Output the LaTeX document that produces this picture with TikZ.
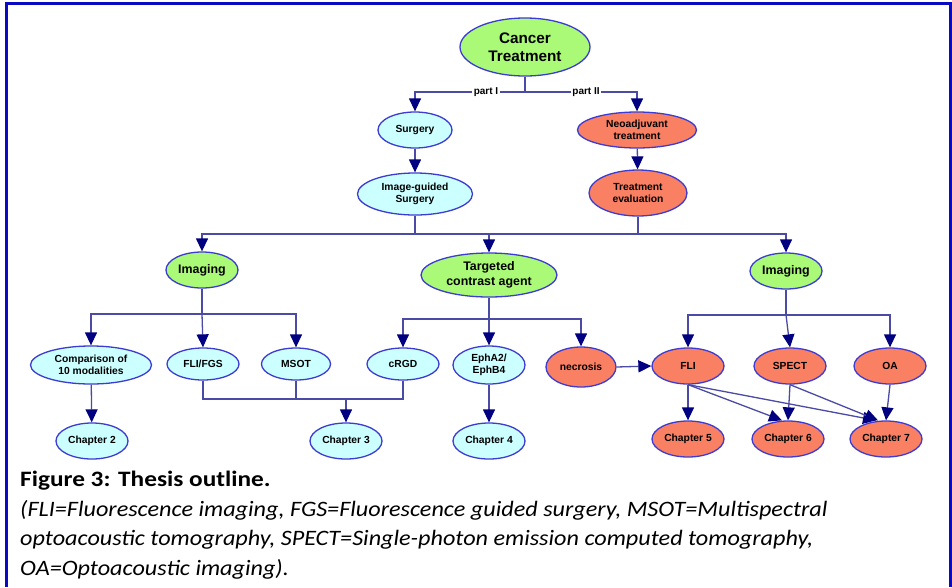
\documentclass[tikz,border=0pt]{standalone}
\usepackage{fontspec}
\setmainfont{Liberation Sans}
\newfontfamily\capbold{Carlito}[FakeStretch=1.15,UprightFont=* Bold]
\newfontfamily\capital{Carlito}[FakeStretch=1.10,UprightFont=* Italic]
\usetikzlibrary{shapes.geometric,arrows.meta}
\definecolor{frameblue}{RGB}{10,10,195}
\definecolor{linecol}{RGB}{75,75,165}
\definecolor{arrowcol}{RGB}{0,0,128}
\definecolor{nodeborder}{RGB}{60,60,210}
\definecolor{cyanfill}{RGB}{204,255,255}
\definecolor{greenfill}{RGB}{170,250,120}
\definecolor{salmonfill}{RGB}{250,128,100}
\tikzset{
  base/.style={ellipse, draw=nodeborder, line width=1.3pt, inner sep=0pt, align=center,
    font=\bfseries\fontsize{10.3}{12}\selectfont},
  cy/.style={base, fill=cyanfill},
  gr/.style={base, fill=greenfill, font=\bfseries\fontsize{12.4}{14.5}\selectfont},
  sa/.style={base, fill=salmonfill},
  conn/.style={draw=linecol, line width=1.3pt},
  arr/.style={conn, -{Triangle[length=13pt,width=12pt,color=arrowcol,fill=arrowcol]}},
  lbl/.style={fill=white, inner sep=1.5pt, font=\bfseries\fontsize{10}{11}\selectfont},
  capline/.style={anchor=base west, inner sep=0pt, font=\capital\fontsize{22}{26}\selectfont},
}
\begin{document}
\begin{tikzpicture}[x=1pt,y=-1pt]
\useasboundingbox (0,0) rectangle (952,587);
\fill[white] (0,0) rectangle (952,587);
% frame
\draw[frameblue, line width=3pt] (6.5,587) -- (6.5,3.5) -- (950.5,3.5) -- (950.5,587);

% nodes
\node[gr, minimum width=130pt, minimum height=58pt, font=\bfseries\fontsize{15.3}{18.5}\selectfont] (cancer) at (525,47) {Cancer\\Treatment};
\node[cy, minimum width=74pt, minimum height=36pt] (surgery) at (415,130) {Surgery};
\node[sa, minimum width=119pt, minimum height=36pt] (neo) at (637,130) {Neoadjuvant\\treatment};
\node[cy, minimum width=115pt, minimum height=42pt] (igs) at (415,194) {Image-guided\\Surgery};
\node[sa, minimum width=98pt, minimum height=46pt] (teval) at (638,193) {Treatment\\evaluation};

\node[gr, minimum width=72pt, minimum height=36pt] (imgL) at (202,270) {Imaging};
\node[gr, minimum width=136pt, minimum height=44pt] (tca) at (489,275) {Targeted\\contrast agent};
\node[gr, minimum width=72pt, minimum height=36pt] (imgR) at (786,271) {Imaging};

\node[cy, minimum width=121pt, minimum height=38pt] (comp) at (91,365) {Comparison of\\10 modalities};
\node[cy, minimum width=72pt, minimum height=32pt] (flifgs) at (203,364) {FLI/FGS};
\node[cy, minimum width=69pt, minimum height=32pt] (msot) at (296,364) {MSOT};
\node[cy, minimum width=72pt, minimum height=32pt] (crgd) at (403,364) {cRGD};
\node[cy, minimum width=72pt, minimum height=38pt] (eph) at (489,365) {EphA2/\\EphB4};
\node[sa, minimum width=70pt, minimum height=40pt] (necro) at (581,367) {necrosis};
\node[sa, minimum width=72pt, minimum height=36pt] (fli) at (688,366) {FLI};
\node[sa, minimum width=72pt, minimum height=36pt] (spect) at (790,366) {SPECT};
\node[sa, minimum width=72pt, minimum height=36pt] (oa) at (890,366) {OA};

\node[cy, minimum width=72pt, minimum height=36pt] (ch2) at (92,441) {Chapter 2};
\node[cy, minimum width=72pt, minimum height=36pt] (ch3) at (346,441) {Chapter 3};
\node[cy, minimum width=72pt, minimum height=36pt] (ch4) at (489,441) {Chapter 4};
\node[sa, minimum width=72pt, minimum height=36pt] (ch5) at (688,439) {Chapter 5};
\node[sa, minimum width=72pt, minimum height=36pt] (ch6) at (788,439) {Chapter 6};
\node[sa, minimum width=72pt, minimum height=36pt] (ch7) at (886,439) {Chapter 7};

% junction coordinates
\coordinate (j1) at (525,92);
\coordinate (j2a) at (415,234);
\coordinate (j2b) at (638,234);
\coordinate (j3) at (202,314);
\coordinate (j4) at (489,319);
\coordinate (j5) at (786,315);
\coordinate (j6) at (346,399);

% top level
\draw[conn] (cancer.south) -- (j1);
\draw[arr] (j1) -| (surgery.north);
\draw[arr] (j1) -| (neo.north);
\node[lbl] (p1) at (486,92) {part I};
\node[lbl] (p2) at (586,92) {part II};
\draw[arr] (surgery) -- (igs);
\draw[arr] (neo) -- (teval);

% second level
\draw[conn] (igs.south) -- (j2a);
\draw[conn] (teval.south) -- (j2b);
\draw[conn] (j2a) -- (j2b);
\draw[arr] (j2a) -| (imgL.north);
\draw[arr] (j2b) -| (imgR.north);
\draw[arr] (j2a -| tca.north) -- (tca.north);

% imaging left
\draw[conn] (imgL.south) -- (j3);
\draw[arr] (j3) -| (comp.north);
\draw[arr] (j3) -| (msot.north);
\draw[arr] (j3) -- (flifgs.north);
\draw[arr] (comp) -- (ch2);

% targeted contrast agent
\draw[conn] (tca.south) -- (j4);
\draw[arr] (j4) -| (crgd.north);
\draw[arr] (j4) -| (necro.north);
\draw[arr] (j4) -- (eph.north);
\draw[arr] (eph) -- (ch4);

% chapter 3 merge
\draw[conn] (flifgs.south) |- (j6);
\draw[conn] (msot.south) -- (msot.south |- j6);
\draw[conn] (crgd.south) |- (j6);
\draw[arr] (j6) -- (ch3.north);

% imaging right
\draw[conn] (imgR.south) -- (j5);
\draw[arr] (j5) -| (fli.north);
\draw[arr] (j5) -| (oa.north);
\draw[arr] (j5) -- (spect.north);

% necrosis to FLI
\draw[arr] (necro.east) -- (fli.west);

% FLI / SPECT / OA to chapters
\draw[arr] (fli.south) -- (ch5.north);
\draw[arr] (fli.south) -- ([xshift=-6pt]ch6.north);
\draw[arr] (fli.south) -- ([xshift=-10pt]ch7.north);
\draw[arr] (spect.south) -- (ch6.north);
\draw[arr] (spect.south) -- ([xshift=-8pt]ch7.north);
\draw[arr] (oa.south) -- (ch7.north);

% caption
\node[capline, font=\capbold\fontsize{22}{26}\selectfont] (cap0) at (20,486.5) {Figure 3: Thesis outline.};
\node[capline] (cap1) at (20,516) {(FLI=Fluorescence imaging, FGS=Fluorescence guided surgery, MSOT=Multispectral};
\node[capline] (cap2) at (20,545.5) {optoacoustic tomography, SPECT=Single-photon emission computed tomography,};
\node[capline] (cap3) at (20,575) {OA=Optoacoustic imaging).};
\end{tikzpicture}
\end{document}
